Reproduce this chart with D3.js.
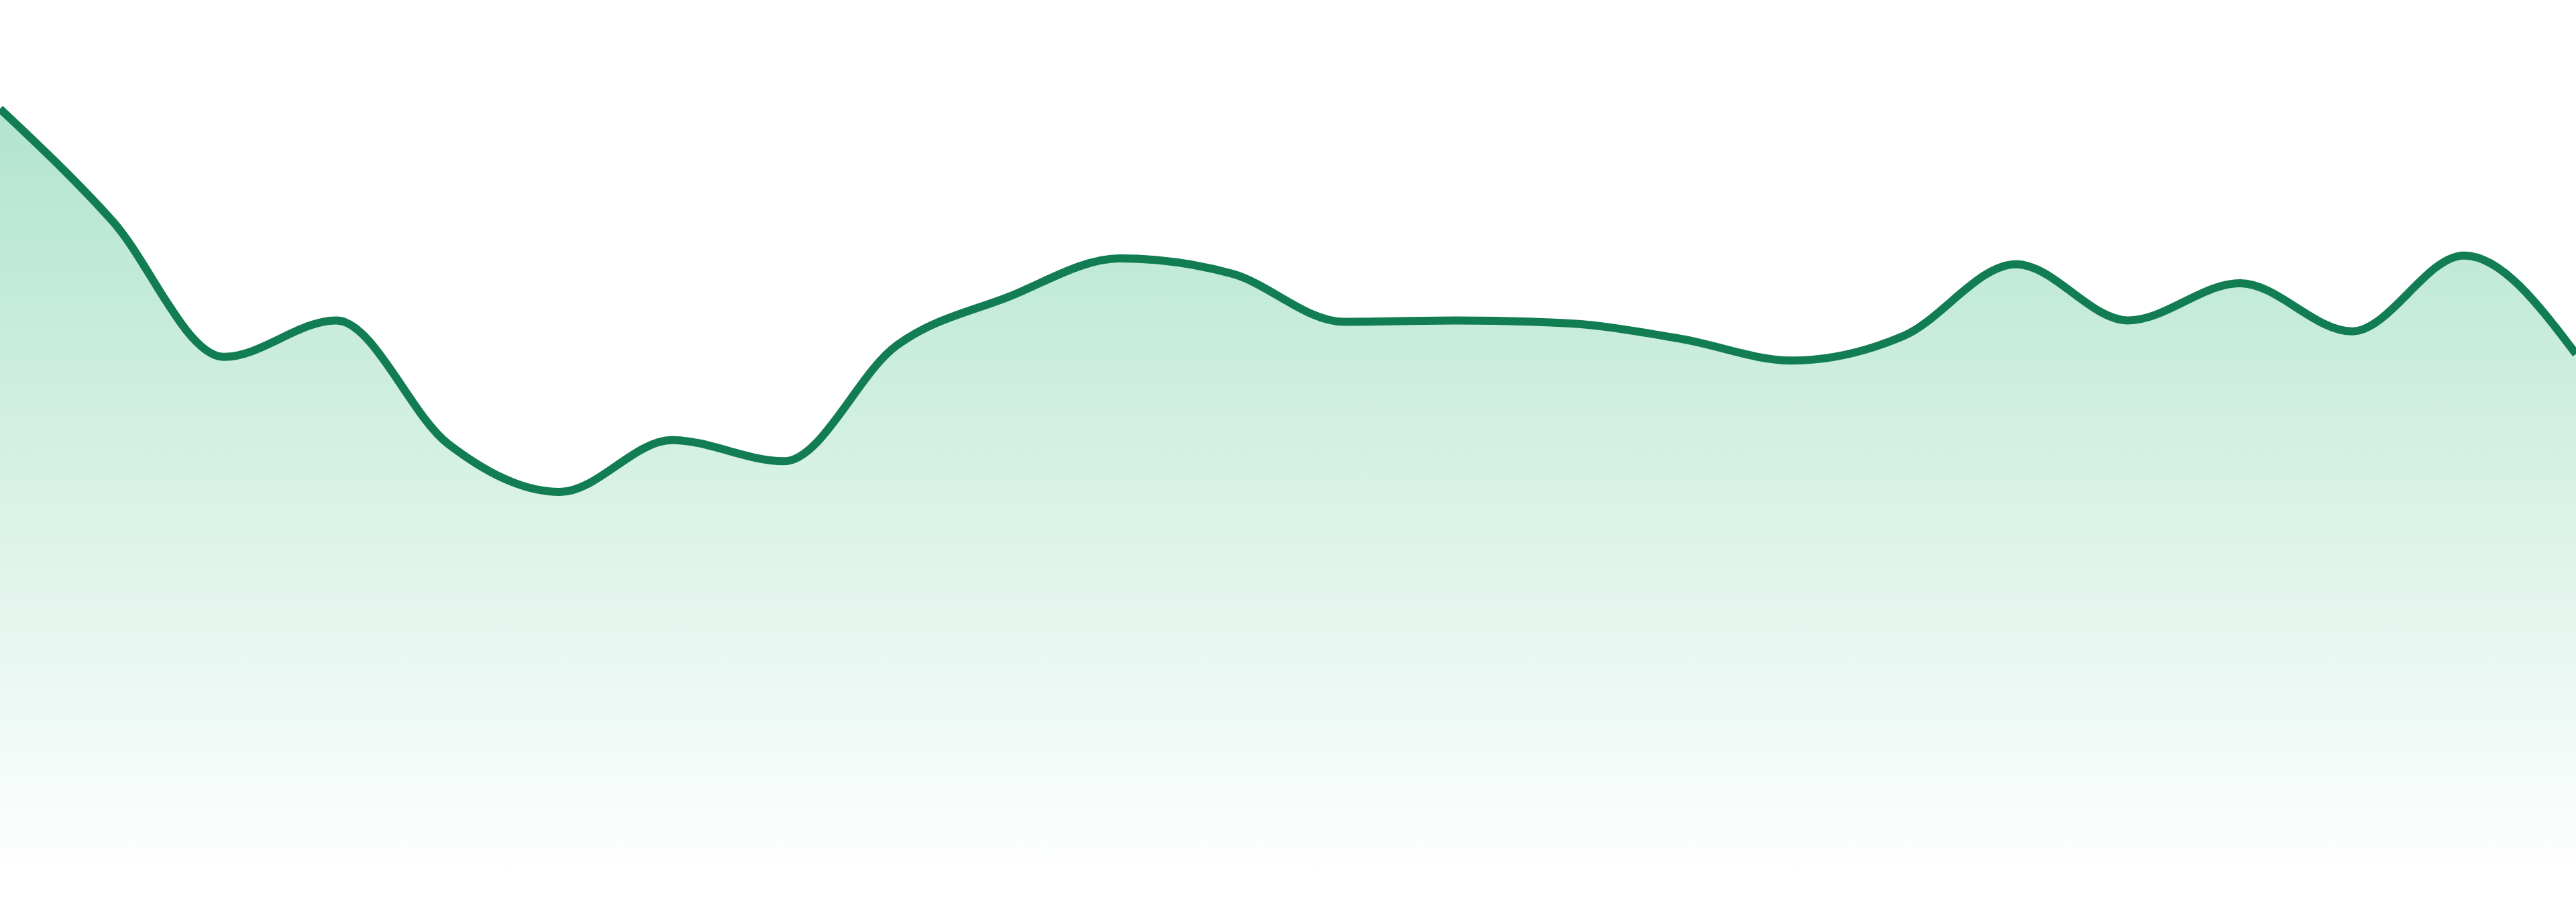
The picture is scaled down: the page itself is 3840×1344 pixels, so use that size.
<!DOCTYPE html>
<html>
<head>
<meta charset="utf-8">
<script src="https://cdn.jsdelivr.net/npm/d3@7"></script>
<style>
  html, body { margin: 0; padding: 0; background: #fff; overflow: hidden; }
</style>
</head>
<body>
<div id="chart"></div>
<script>
// one point per day, 24 days
const days = d3.range(1, 25).map(d => `Day ${d}`);
const values = [105.1, 89.8, 71.1, 76.1, 59.2, 52.6, 59.7, 56.8, 72.6, 79.3, 84.6, 82.5,
                75.9, 76.1, 75.7, 73.6, 70.6, 74.0, 83.8, 76.1, 81.2, 74.6, 85.0, 71.5];
const yDomain = [0, 120];

const width = 3840;
const height = 1344;
const bottom = 1305;

const data = days.map((d, i) => ({day: d, value: values[i]}));

const x = d3.scalePoint().domain(days).range([0, width]);
const y = d3.scaleLinear().domain(yDomain).range([bottom, 0]);

const svg = d3.select("#chart").append("svg")
    .attr("width", width)
    .attr("height", height)
    .attr("viewBox", [0, 0, width, height]);

const grad = svg.append("defs").append("linearGradient")
    .attr("id", "fillGrad")
    .attr("gradientUnits", "userSpaceOnUse")
    .attr("x1", 0).attr("x2", 0)
    .attr("y1", y(d3.max(values))).attr("y2", bottom);
grad.append("stop").attr("offset", 0).attr("stop-color", "#28b478").attr("stop-opacity", 0.36);
grad.append("stop").attr("offset", 1).attr("stop-color", "#28b478").attr("stop-opacity", 0);

const area = d3.area()
    .x(d => x(d.day))
    .y0(bottom)
    .y1(d => y(d.value))
    .curve(d3.curveMonotoneX);

const line = d3.line()
    .x(d => x(d.day))
    .y(d => y(d.value))
    .curve(d3.curveMonotoneX);

svg.append("path")
    .datum(data)
    .attr("fill", "url(#fillGrad)")
    .attr("d", area);

svg.append("path")
    .datum(data)
    .attr("fill", "none")
    .attr("stroke", "#127c52")
    .attr("stroke-width", 12)
    .attr("stroke-linejoin", "round")
    .attr("d", line);
</script>
</body>
</html>
